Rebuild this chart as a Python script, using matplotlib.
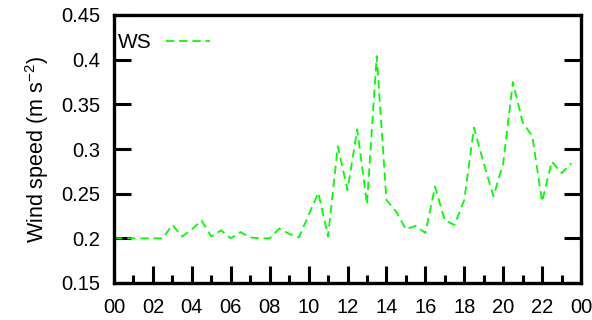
import numpy as np
import matplotlib
matplotlib.use("Agg")
import matplotlib.pyplot as plt
from matplotlib.ticker import MultipleLocator

# half-hourly wind speed over one day
hours = np.arange(0, 24, 0.5)
ws = [0.200, 0.200, 0.200, 0.200, 0.200, 0.200, 0.215, 0.202,
      0.210, 0.220, 0.202, 0.209, 0.200, 0.207, 0.201, 0.200,
      0.200, 0.211, 0.205, 0.201, 0.226, 0.251, 0.202, 0.303,
      0.254, 0.322, 0.238, 0.404, 0.243, 0.230, 0.210, 0.214,
      0.206, 0.258, 0.220, 0.215, 0.243, 0.324, 0.284, 0.247,
      0.284, 0.375, 0.330, 0.314, 0.241, 0.286, 0.273, 0.284]

x_ticks = [0, 2, 4, 6, 8, 10, 12, 14, 16, 18, 20, 22, 24]
x_labels = ["00", "02", "04", "06", "08", "10", "12", "14", "16", "18", "20", "22", "00"]
y_ticks = [0.15, 0.2, 0.25, 0.3, 0.35, 0.4, 0.45]
y_labels = ["0.15", "0.2", "0.25", "0.3", "0.35", "0.4", "0.45"]

plt.rcParams['font.family'] = ['Liberation Sans', 'DejaVu Sans']
plt.rcParams['lines.scale_dashes'] = False

fig = plt.figure(figsize=(5.92, 3.20), dpi=100)
ax = fig.add_axes([114 / 592, 1 - 283 / 320, 467 / 592, 268 / 320])

ax.plot(hours, ws, color="#00ff00", linewidth=1.3, dashes=(6, 3.5), label="WS")

ax.set_xlim(0, 24)
ax.set_ylim(0.15, 0.45)
ax.set_xticks(x_ticks)
ax.set_xticklabels(x_labels)
ax.xaxis.set_minor_locator(MultipleLocator(1))
ax.set_yticks(y_ticks)
ax.set_yticklabels(y_labels)

ax.tick_params(axis="both", which="both", direction="in", labelsize=14.5, width=2.2)
ax.tick_params(axis="x", which="major", length=12, pad=11)
ax.tick_params(axis="x", which="minor", length=6)
ax.tick_params(axis="y", which="major", length=12, right=True, pad=10)

for sp in ax.spines.values():
    sp.set_linewidth(2.4)

ax.set_ylabel("Wind speed (m s$^{\\mathregular{-2}}$)", fontsize=15.5, labelpad=7)

ax.legend(loc="center left", bbox_to_anchor=(4 / 467, 1 - 28 / 268),
          frameon=False, markerfirst=False, fontsize=15,
          handlelength=2.1, handletextpad=0.7, borderaxespad=0,
          borderpad=0)

fig.savefig("out.png", dpi=100)
